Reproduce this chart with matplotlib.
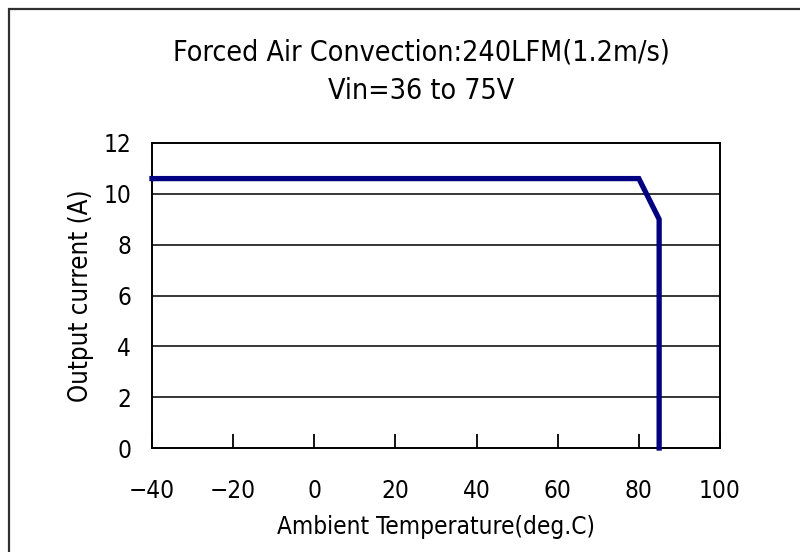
import matplotlib
matplotlib.use("Agg")
import matplotlib.pyplot as plt
from matplotlib.patches import Rectangle

# derating curve
temp = [-40, 80, 85, 85]
current = [10.6, 10.6, 9.0, 0.0]

x_ticks = [-40, -20, 0, 20, 40, 60, 80, 100]
y_ticks = [0, 2, 4, 6, 8, 10, 12]

title_lines = ["Forced Air Convection:240LFM(1.2m/s)", "Vin=36 to 75V"]
x_label = "Ambient Temperature(deg.C)"
y_label = "Output current (A)"

plt.rcParams['font.family'] = ['DejaVu Sans']
plt.rcParams['font.stretch'] = 'condensed'

W, H = 800, 552
fig = plt.figure(figsize=(W / 100, H / 100), dpi=100)
ax = fig.add_axes([152 / W, 1 - 448 / H, (720 - 152) / W, (448 - 143) / H])

# outer frame, only top and left edges fall inside the picture
fig.patches.append(Rectangle((9 / W, -0.1), 1.2, 1 - 9 / H + 0.1,
                             transform=fig.transFigure, fill=False,
                             edgecolor='#303030', linewidth=1.6))

ax.plot(temp, current, color='#000080', linewidth=3.8, solid_joinstyle='miter',
        zorder=3, clip_on=False)

ax.set_xlim(-40, 100)
ax.set_ylim(0, 12)
ax.set_xticks(x_ticks)
ax.set_yticks(y_ticks)
ax.tick_params(axis='x', direction='in', length=10, width=1.3, pad=22,
               labelsize=17.5, colors='black')
ax.tick_params(axis='y', length=0, pad=15, labelsize=17.5)

for yv in y_ticks[1:-1]:
    ax.axhline(yv, color='black', linewidth=1.1, zorder=1)
for s in ax.spines.values():
    s.set_linewidth(1.4)
    s.set_color('black')

ax.set_xlabel(x_label, fontsize=17.5, labelpad=9)
ax.set_ylabel(y_label, fontsize=18.5, labelpad=7)

fig.text(421 / W, 1 - 53 / H, title_lines[0], ha='center', va='center', fontsize=20.5)
fig.text(421 / W, 1 - 91 / H, title_lines[1], ha='center', va='center', fontsize=20.5)

fig.savefig("out.png", dpi=100)
